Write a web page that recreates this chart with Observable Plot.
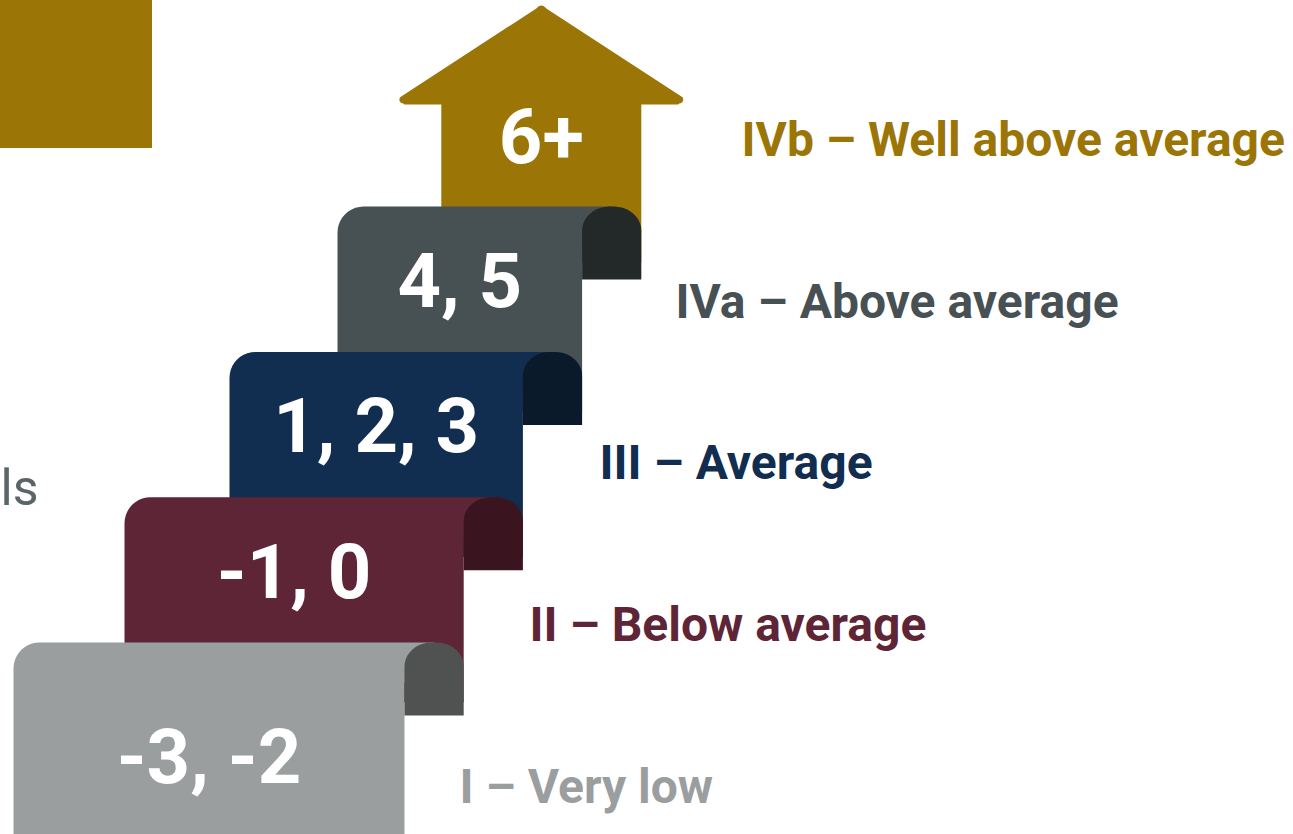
<!DOCTYPE html>
<html>
<head>
<meta charset="utf-8">
<script src="https://cdn.jsdelivr.net/npm/d3@7"></script>
<script src="https://cdn.jsdelivr.net/npm/@observablehq/plot@0.6"></script>
<style>
  html, body { margin: 0; padding: 0; background: #ffffff; overflow: hidden; }
  #chart svg { display: block; }
</style>
</head>
<body>
<div id="chart"></div>
<script>
// ---- data ----
const levels = ["I – Very low", "II – Below average", "III – Average", "IVa – Above average", "IVb – Well above average"];
const scores = ["-3, -2", "-1, 0", "1, 2, 3", "4, 5", "6+"];
const stepColors = ["#9a9e9f", "#5e2536", "#112d4f", "#475053", "#9b7506"];
const curlColors = ["#4f5251", "#3a1520", "#0b1a2b", "#232829"];
const sideText = ["ls"];
const sideTextColor = "#5b6467";
const swatch = [{label: "IVb", color: "#9b7506"}];

// ---- layout (in chart units = px) ----
const W = 1293, H = 834;
const stepRight = i => 404 + 59.2 * i;
const stepLeft = i => 13 + 108 * i + (i === 1 ? 3 : 0);
const stepTop = i => 642 - 145.3 * i;
const curlW = 59.2, curlH = 73, cornerR = 26, curlRx = 27, curlRy = 24;

function arc(cx, cy, rx, ry, a0, a1, n = 10) {
  const pts = [];
  for (let k = 0; k <= n; k++) {
    const t = a0 + (a1 - a0) * k / n;
    pts.push({x: cx + rx * Math.cos(t), y: cy + ry * Math.sin(t)});
  }
  return pts;
}

const shapes = [];
// house (step IVb)
{
  const r = stepRight(4);
  const l = r - 200;
  const cx = (l + r) / 2;
  const shoulder = 104;
  const roof = [
    {x: cx - 137, y: shoulder},
    ...arc(cx - 138, shoulder - 5, 4, 4, Math.PI * 0.5, Math.PI * 1.2, 4),
    {x: cx - 5, y: 8},
    ...arc(cx, 10, 5, 5, Math.PI * 1.2, Math.PI * 1.8, 4),
    {x: cx + 5, y: 8},
    ...arc(cx + 138, shoulder - 5, 4, 4, Math.PI * 1.8, Math.PI * 2.5, 4),
    {x: cx + 137, y: shoulder}
  ];
  shapes.push({pts: roof, color: stepColors[4]});
  shapes.push({pts: [{x: l, y: shoulder - 2}, {x: r, y: shoulder - 2}, {x: r, y: 262}, {x: l, y: 262}], color: stepColors[4]});
}
for (let i = 3; i >= 0; i--) {
  const l = stepLeft(i), r = stepRight(i), t = stepTop(i);
  const b = t + 205;
  const main = [
    {x: l, y: b},
    ...arc(l + cornerR, t + cornerR, cornerR, cornerR, Math.PI, Math.PI * 1.5),
    {x: r + curlW / 2, y: t},
    {x: r + curlW / 2, y: t + 40},
    {x: r, y: t + 40},
    {x: r, y: b}
  ];
  shapes.push({pts: main, color: stepColors[i]});
  const curl = [
    {x: r, y: t + curlH},
    ...arc(r + curlRx, t + curlRy, curlRx, curlRy, Math.PI, Math.PI * 1.5),
    ...arc(r + curlW - curlRx, t + curlRy, curlRx, curlRy, Math.PI * 1.5, Math.PI * 2),
    {x: r + curlW, y: t + curlH}
  ];
  shapes.push({pts: curl, color: curlColors[i]});
}

const scoreData = scores.map((s, i) => {
  if (i === 4) return {s, x: stepRight(4) - 100, y: 104 + 34};
  return {s, x: (stepLeft(i) + stepRight(i)) / 2, y: stepTop(i) + (i === 0 ? 116 : 76)};
});
const labelData = levels.map((s, i) => ({s, i, x: 459 + 70 * i + (i === 3 ? 6 : 0) + (i === 4 ? 2 : 0), y: 787 - 161.75 * i, color: stepColors[i]}));

const marks = [
  Plot.rect(swatch, {x1: () => 0, x2: () => 152, y1: () => 0, y2: () => 148, fill: d => d.color}),
  Plot.text(sideText, {x: () => 0, y: () => 488, text: d => d, textAnchor: "start", fill: sideTextColor,
    fontSize: 50, fontFamily: "Roboto", fontWeight: 400})
];
for (const sh of shapes) {
  marks.push(Plot.line(sh.pts, {x: "x", y: "y", fill: sh.color, stroke: "none", curve: "linear"}));
}
marks.push(Plot.text(scoreData, {x: "x", y: "y", text: "s", fill: "#ffffff", fontSize: 76,
  fontFamily: "Roboto", fontWeight: 700, textAnchor: "middle"}));
marks.push(Plot.text(labelData, {x: "x", y: "y", text: "s", fill: "color", fontSize: 48,
  fontFamily: "Roboto", fontWeight: 700, textAnchor: "start"}));

const chart = Plot.plot({
  width: W, height: H, margin: 0,
  style: {background: "#ffffff", overflow: "hidden"},
  x: {type: "linear", domain: [0, W], range: [0, W], axis: null},
  y: {type: "linear", domain: [0, H], range: [0, H], axis: null},
  color: {type: "identity"},
  marks
});
document.getElementById("chart").appendChild(chart);
</script>
</body>
</html>
